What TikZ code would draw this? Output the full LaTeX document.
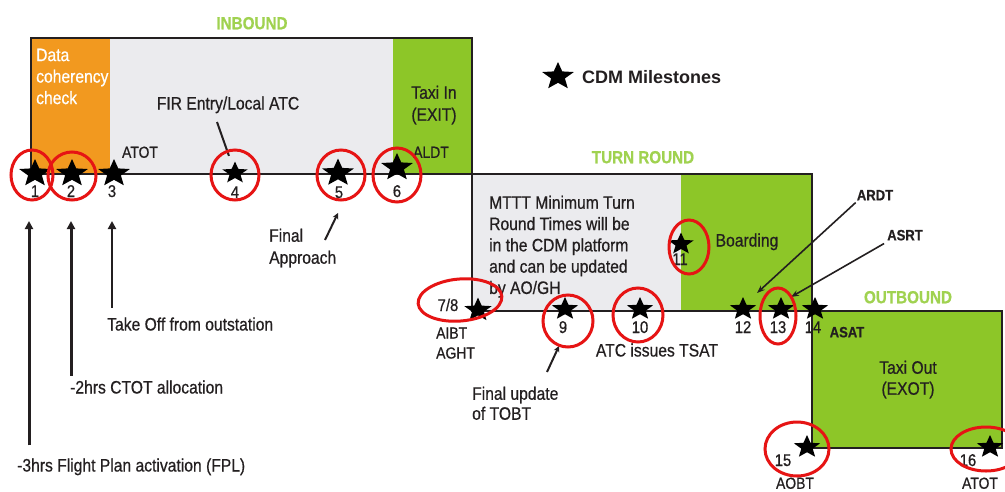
\documentclass[tikz,border=0pt]{standalone}
\usepackage{fontspec}
\setmainfont{Liberation Sans}[FakeStretch=0.87,FakeBold=0.6]
\newfontfamily\legendfont{Liberation Sans}
\usetikzlibrary{shapes.geometric,arrows.meta}
\definecolor{ink}{RGB}{35,31,32}
\definecolor{cdmorange}{RGB}{242,153,31}
\definecolor{cdmgreen}{RGB}{141,198,40}
\definecolor{cdmgrey}{RGB}{235,235,238}
\definecolor{phasegreen}{RGB}{160,210,80}
\definecolor{ringred}{RGB}{230,20,20}
\newcommand{\milestar}[4]{\begin{scope}[shift={(#2,#3)},xscale=1.15]\node[ms,transform shape,minimum size=#4] (#1) at (0,0) {};\end{scope}}
\begin{document}
\begin{tikzpicture}[x=1pt,y=-1pt,
  ms/.style={star,star points=5,star point ratio=2.3,fill=black,inner sep=0pt},
  num/.style={font=\fontsize{17}{20}\selectfont,text=ink,inner sep=0pt,text height=12pt,text depth=0pt},
  lbl/.style={font=\fontsize{18}{21}\selectfont,text=ink,inner sep=0pt,text height=13pt,text depth=0pt},
  code/.style={font=\fontsize{16}{20}\selectfont,text=ink,inner sep=0pt,text height=11.5pt,text depth=0pt},
  bcode/.style={font=\fontsize{15}{18}\selectfont\bfseries,text=ink,inner sep=0pt,text height=10.7pt,text depth=0pt},
  para/.style={text=ink,inner sep=0pt,align=left},
  phase/.style={font=\fontsize{17.5}{20}\selectfont\bfseries,text=phasegreen,inner sep=0pt,text height=12.5pt,text depth=0pt},
  ring/.style={ellipse,draw=ringred,line width=3pt,inner sep=0pt},
  box/.style={draw=ink,line width=2pt},
  uparrow/.style={draw=ink,line width=3pt,-{Triangle[length=8pt,width=8pt]}},
  pointer/.style={draw=ink,line width=1.6pt,-{Stealth[length=8pt,width=6pt]}},
]
\clip (0,0) rectangle (1005,491);
\fill[white] (0,0) rectangle (1005,491);

% phase boxes
\fill[cdmorange] (31,38) rectangle (110,174);
\fill[cdmgrey] (110,38) rectangle (393,174);
\fill[cdmgreen] (393,38) rectangle (472,174);
\draw[box] (31,38) rectangle (472,174);
\fill[cdmgrey] (472,174) rectangle (681,311);
\fill[cdmgreen] (681,174) rectangle (812,311);
\draw[box] (472,174) rectangle (812,311);
\fill[cdmgreen] (812,311) rectangle (1002,448);
\draw[box] (812,311) rectangle (1002,448);

% phase titles
\node[phase] (tInbound) at (252,23) {INBOUND};
\node[phase] (tTurn) at (643,157) {TURN ROUND};
\node[phase] (tOut) at (908,297) {OUTBOUND};

% texts in boxes
\node[para,font=\fontsize{18}{21.5}\selectfont,text=white,anchor=north west] (dcc) at (36,48.5) {Data\\coherency\\check};
\node[lbl] (fir) at (228,103) {FIR Entry/Local ATC};
\node[code] (atotA) at (140,152) {ATOT};
\node[para,font=\fontsize{18}{22}\selectfont,align=center,anchor=north] (taxiin) at (434,85.5) {Taxi In\\(EXIT)};
\node[code] (aldt) at (431,152) {ALDT};
\node[para,font=\fontsize{18}{21.3}\selectfont,anchor=north west] (mttt) at (489,195.5) {MTTT Minimum Turn\\Round Times will be\\in the CDM platform\\and can be updated\\by AO/GH};
\node[lbl] (boarding) at (747,240) {Boarding};
\node[para,font=\fontsize{18}{21}\selectfont,align=center,anchor=north] (taxiout) at (908,360.5) {Taxi Out\\(EXOT)};

% legend
\milestar{legstar}{558}{76.5}{29pt}
\node[font=\legendfont\fontsize{18}{20}\selectfont\bfseries,text=ink,inner sep=0pt,text height=13pt,text depth=0pt,anchor=west] (legtext) at (582,77) {CDM Milestones};

% milestones
\milestar{s1}{35}{173.5}{29pt}
\milestar{s2}{72}{173.5}{29pt}
\milestar{s3}{114}{173.5}{29pt}
\milestar{s4}{235}{173}{23pt}
\milestar{s5}{338}{173}{29pt}
\milestar{s6}{397}{167.5}{29pt}
\milestar{s78}{478}{310}{25pt}
\milestar{s9}{565}{309}{24pt}
\milestar{s10}{640}{309}{24pt}
\milestar{s11}{681}{244}{23pt}
\milestar{s12}{743}{309}{24pt}
\milestar{s13}{781}{309}{24pt}
\milestar{s14}{815}{309}{24pt}
\milestar{s15}{807}{447}{24pt}
\milestar{s16}{990}{447}{24pt}

% numbers
\node[num] (n1) at (35,191) {1};
\node[num] (n2) at (71,191) {2};
\node[num] (n3) at (112,191) {3};
\node[num] (n4) at (235,192) {4};
\node[num] (n5) at (339,192) {5};
\node[num] (n6) at (397,191) {6};
\node[num] (n78) at (448,305) {7/8};
\node[num] (n9) at (563,327) {9};
\node[num] (n10) at (640,327) {10};
\node[num] (n11) at (680,259) {11};
\node[num] (n12) at (743,327) {12};
\node[num] (n13) at (778,327) {13};
\node[num] (n14) at (813,327) {14};
\node[num] (n15) at (783,460) {15};
\node[num] (n16) at (968,460) {16};

% codes around the line
\node[para,font=\fontsize{16}{20}\selectfont,anchor=north west] (aibt) at (436,327.3) {AIBT\\AGHT};
\node[bcode] (asat) at (847,332) {ASAT};
\node[code] (aobt) at (795,483) {AOBT};
\node[code] (atotB) at (980,483) {ATOT};
\node[bcode] (ardt) at (875,195) {ARDT};
\node[bcode] (asrt) at (905,235) {ASRT};

% annotations
\node[lbl] (tsat) at (657,350) {ATC issues TSAT};
\node[para,font=\fontsize{18}{20}\selectfont,anchor=north west] (tobt) at (472,386.5) {Final update\\of TOBT};
\node[para,font=\fontsize{18}{22}\selectfont,anchor=north west] (finapp) at (269,228.5) {Final\\Approach};
\node[lbl,anchor=west] (takeoff) at (107,324) {Take Off from outstation};
\node[lbl,anchor=west] (ctot) at (70,387) {-2hrs CTOT allocation};
\node[lbl,anchor=west] (fpl) at (17,465) {-3hrs Flight Plan activation (FPL)};

% connectors
\coordinate (a1) at (29,221);
\coordinate (a2) at (71,221);
\coordinate (a3) at (112,221);
\draw[uparrow,shorten <=13pt] (fpl.north west -| a1) -- (a1);
\draw[uparrow,shorten <=4.5pt] (ctot.north west -| a2) -- (a2);
\draw[uparrow,line width=2.5pt,shorten <=9.5pt] (takeoff.north west -| a3) -- (a3);

\coordinate (firtail) at (217,122);
\draw[ink,line width=2pt,shorten >=11pt] (firtail) -- (s4);

\coordinate (fatail) at (325,240);
\coordinate (fatip) at (338,213);
\draw[pointer,line width=2pt,-{Stealth[length=6pt,width=6pt]}] (fatail) -- (fatip);

\coordinate (tobttail) at (547,372);
\coordinate (tobttip) at (559,346);
\draw[pointer,line width=2pt,-{Stealth[length=6pt,width=6pt]}] (tobttail) -- (tobttip);

\coordinate (ardttip) at (757,293);
\coordinate (asrttip) at (791,297);
\draw[pointer] ([xshift=-1pt,yshift=-2pt]ardt.south west) -- (ardttip);
\draw[pointer] ([xshift=-3pt,yshift=-3pt]asrt.south west) -- (asrttip);

% red rings
\node[ring,minimum width=42pt,minimum height=50pt] (r1) at (32,175) {};
\node[ring,minimum width=48pt,minimum height=48pt] (r2) at (72,176) {};
\node[ring,minimum width=48pt,minimum height=50pt] (r4) at (235,175) {};
\node[ring,minimum width=48pt,minimum height=50pt] (r5) at (341,175) {};
\node[ring,minimum width=48pt,minimum height=54pt] (r6) at (397,175) {};
\node[ring,minimum width=84pt,minimum height=42pt,rotate=5] (r78) at (460,300) {};
\node[ring,minimum width=50pt,minimum height=52pt] (r9) at (568,321) {};
\node[ring,minimum width=50pt,minimum height=54pt] (r10) at (638,315) {};
\node[ring,minimum width=40pt,minimum height=54pt] (r11) at (689,247) {};
\node[ring,minimum width=36pt,minimum height=56pt] (r13) at (778,316) {};
\node[ring,minimum width=64pt,minimum height=54pt] (r15) at (797,449) {};
\node[ring,minimum width=70pt,minimum height=44pt] (r16) at (986,449) {};
\end{tikzpicture}
\end{document}
